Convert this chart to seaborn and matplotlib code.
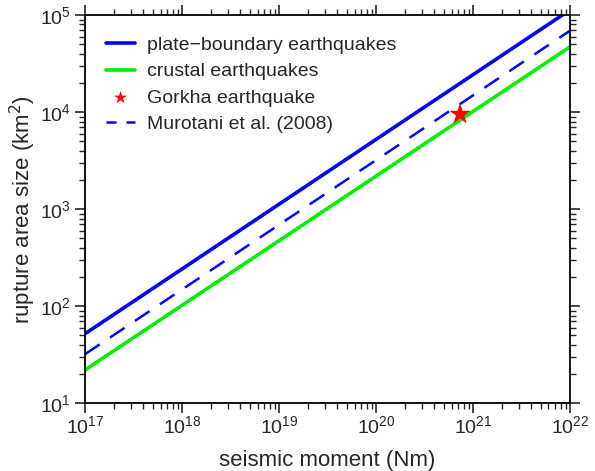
import numpy as np
import pandas as pd
import matplotlib
matplotlib.use("Agg")
import matplotlib.pyplot as plt
import seaborn as sns

# data (end points of the scaling lines)
moment = [1e17, 1e22]
plate_boundary = [52, 1.13e5]
crustal = [22, 4.7e4]
murotani = [32, 6.9e4]
gorkha_moment = [7.35e20]
gorkha_area = [9.5e3]

sns.set_style("ticks")
plt.rcParams['font.family'] = ['Liberation Sans', 'DejaVu Sans']

fig = plt.figure(figsize=(5.95, 4.71), dpi=100)
ax = fig.add_axes([0.143, 0.144, 0.815, 0.824])

df = pd.DataFrame({"moment": moment, "plate": plate_boundary,
                   "crustal": crustal, "murotani": murotani})

sns.lineplot(data=df, x="moment", y="plate", color="#0000ff", lw=2.6,
             label="plate\u2212boundary earthquakes", ax=ax)
sns.lineplot(data=df, x="moment", y="crustal", color="#00ee00", lw=2.6,
             label="crustal earthquakes", ax=ax)
sns.scatterplot(x=gorkha_moment, y=gorkha_area, marker="*", s=260, color="red",
                edgecolor="none", label="Gorkha earthquake", ax=ax, zorder=5)
sns.lineplot(data=df, x="moment", y="murotani", color="#0000ff", lw=1.8,
             dashes=False, label="Murotani et al. (2008)", ax=ax)
ax.lines[-1].set_dashes([7, 5])

ax.set_xscale("log")
ax.set_yscale("log")
ax.set_xlim(1e17, 1e22)
ax.set_ylim(1e1, 1e5)

ax.set_xlabel("seismic moment (Nm)", fontsize=16, labelpad=9)
ax.set_ylabel("rupture area size (km$^2$)", fontsize=16, labelpad=1)

ax.tick_params(which="both", direction="out", top=True, right=True,
               labelsize=14, width=1.2)
ax.tick_params(axis="x", which="major", pad=2)
ax.tick_params(which="major", length=7)
ax.tick_params(which="minor", length=4, width=1)
for s in ax.spines.values():
    s.set_linewidth(1.3)
    s.set_color("black")

leg = ax.legend(loc="upper left", frameon=False, fontsize=14, handlelength=1.45,
                handletextpad=0.65, borderaxespad=0.6, borderpad=0.5,
                labelspacing=0.45, markerscale=0.6)
for h in leg.legend_handles[:2]:
    h.set_linewidth(2.6)
leg.legend_handles[3].set_dashes([4, 4])

fig.savefig("out.png", dpi=100)
